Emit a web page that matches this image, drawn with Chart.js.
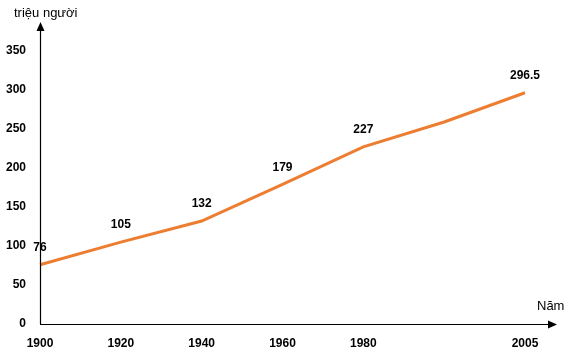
<!DOCTYPE html>
<html><head><meta charset="utf-8">
<script src="https://cdn.jsdelivr.net/npm/chart.js@4.4.0/dist/chart.umd.min.js"></script>
<style>html,body{margin:0;padding:0;background:#fff}#wrap{width:568px;height:360px;position:relative}</style>
</head><body><div id="wrap"><canvas id="c" width="568" height="360"></canvas></div>
<script>
const years = ['1900','1920','1940','1960','1980','','2005'];
const population = [76,105,132,179,227,259,296.5];
const pointLabels = ['76','105','132','179','227','','296.5'];
const yTicks = [0,50,100,150,200,250,300,350];
const yTitle = 'triệu người';
const xTitle = 'Năm';

const FONT = '"Liberation Sans", Arial, sans-serif';

const axesPlugin = {
  id: 'axesArrows',
  afterDatasetsDraw(chart) {
    const ctx = chart.ctx, a = chart.chartArea;
    ctx.save();
    ctx.strokeStyle = '#000'; ctx.fillStyle = '#000'; ctx.lineWidth = 1.2;
    // y axis
    ctx.beginPath(); ctx.moveTo(a.left + 0.5, a.bottom); ctx.lineTo(a.left + 0.5, 30); ctx.stroke();
    ctx.beginPath(); ctx.moveTo(a.left + 0.5, 22); ctx.lineTo(a.left - 3.5, 31); ctx.lineTo(a.left + 4.5, 31); ctx.closePath(); ctx.fill();
    // x axis
    ctx.beginPath(); ctx.moveTo(a.left, a.bottom + 0.5); ctx.lineTo(549, a.bottom + 0.5); ctx.stroke();
    ctx.beginPath(); ctx.moveTo(557, a.bottom + 0.5); ctx.lineTo(548, a.bottom - 3.5); ctx.lineTo(548, a.bottom + 4.5); ctx.closePath(); ctx.fill();
    // titles
    ctx.font = '13px ' + FONT; ctx.textBaseline = 'middle'; ctx.textAlign = 'left';
    ctx.fillText(yTitle, 14, 13);
    ctx.fillText(xTitle, 537, 306);
    // point labels
    ctx.font = 'bold 12px ' + FONT; ctx.textAlign = 'center';
    const meta = chart.getDatasetMeta(0);
    meta.data.forEach((p, i) => {
      if (pointLabels[i]) ctx.fillText(pointLabels[i], p.x, p.y - 17);
    });
    ctx.restore();
  }
};

new Chart(document.getElementById('c'), {
  type: 'line',
  data: { labels: years, datasets: [{ data: population, borderColor: '#ED7D31', borderWidth: 3, pointRadius: 0, tension: 0, fill: false }] },
  options: {
    responsive: false, animation: false,
    layout: { padding: { top: 51, right: 43, left: 0, bottom: 0 } },
    plugins: { legend: { display: false }, tooltip: { enabled: false } },
    scales: {
      x: {
        type: 'category', offset: false,
        grid: { display: false, drawTicks: false, tickLength: 0 }, border: { display: false },
        ticks: { color: '#000', font: { family: FONT, size: 12, weight: 'bold' }, padding: 12, maxRotation: 0, autoSkip: false },
        afterFit(s) { s.height = 36; }
      },
      y: {
        min: 0, max: 350,
        grid: { display: false, drawTicks: false, tickLength: 0 }, border: { display: false },
        afterBuildTicks(s) { s.ticks = yTicks.map(v => ({ value: v })); },
        ticks: { color: '#000', font: { family: FONT, size: 12, weight: 'bold' }, padding: 14 },
        afterFit(s) { s.width = 40; }
      }
    }
  },
  plugins: [axesPlugin]
});
</script></body></html>
